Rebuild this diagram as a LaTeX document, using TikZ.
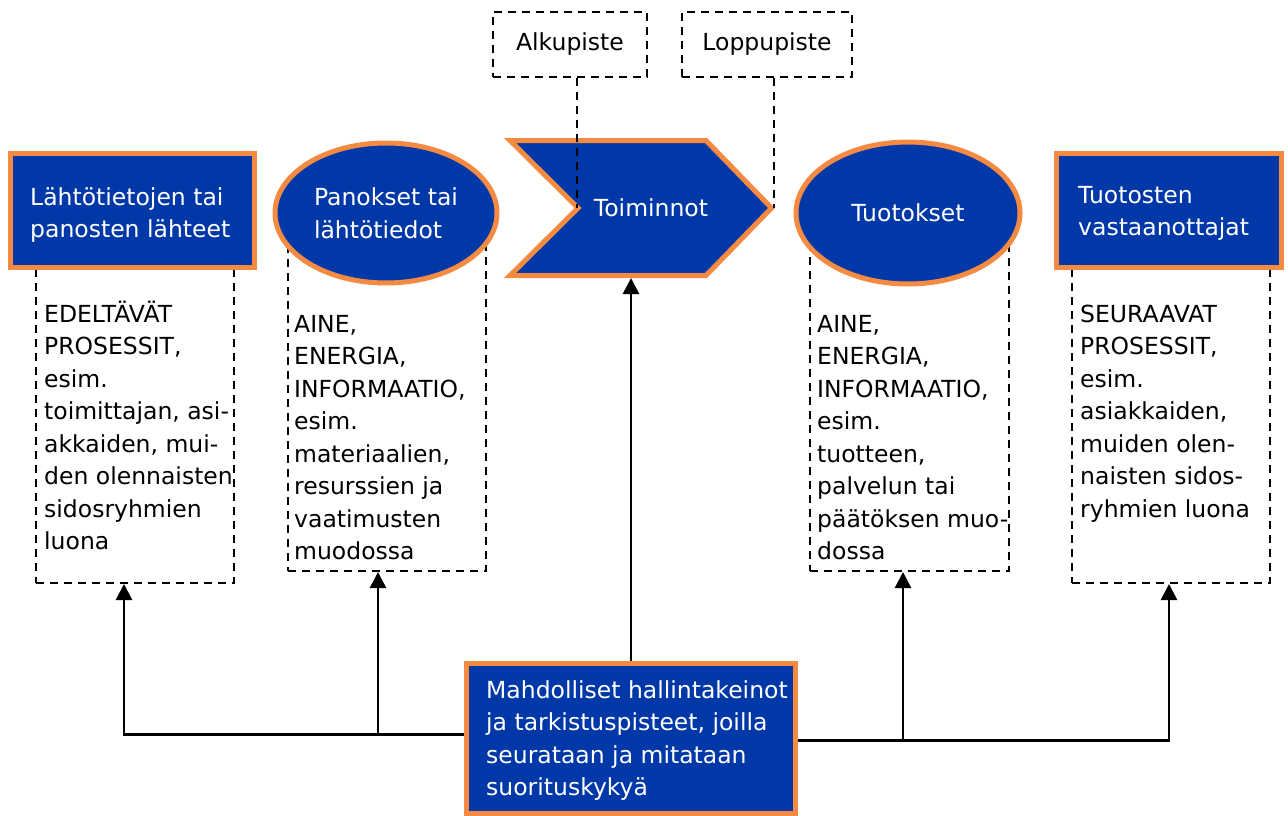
\documentclass[tikz,border=0pt]{standalone}
\usepackage{fontspec}
\setmainfont{DejaVu Sans}
\usetikzlibrary{shapes.geometric,arrows.meta,backgrounds}
\definecolor{bl}{HTML}{0038A8}
\definecolor{orb}{HTML}{F58B43}
\newcommand\dgfont{\fontsize{23.5}{32.5}\selectfont}
\begin{document}
\begin{tikzpicture}[x=1pt,y=-1pt,
  bluebox/.style={draw=orb, fill=bl, line width=5pt, rectangle, inner sep=0pt},
  blueell/.style={draw=orb, fill=bl, line width=5pt, ellipse, inner sep=0pt, text=white, font=\dgfont, align=left},
  dsh/.style={draw=black, line width=2pt, dash pattern=on 8pt off 6pt, inner sep=0pt},
  dline/.style={draw=black, line width=2pt, dash pattern=on 8pt off 6pt},
  txt/.style={font=\dgfont, inner sep=0pt, align=left, anchor=north west},
  wtxt/.style={txt, text=white},
  arr/.style={draw=black, line width=2.5pt, -{Triangle[width=16pt,length=16pt]}}]
\useasboundingbox (0,0) rectangle (1288,816);

% dashed detail boxes (top edges hidden behind the blue shapes)
\node[dsh, minimum width=198pt, minimum height=323pt] (d1) at (135,421.5) {};
\node[dsh, minimum width=198pt, minimum height=336pt] (d2) at (387,403) {};
\node[dsh, minimum width=199pt, minimum height=336pt] (d3) at (909.5,403) {};
\node[dsh, minimum width=198pt, minimum height=323pt] (d4) at (1171,421.5) {};

% top dashed labels
\node[dsh, minimum width=154pt, minimum height=65pt, font=\dgfont] (alk) at (570,44.5) {Alkupiste};
\node[dsh, minimum width=170pt, minimum height=65pt, font=\dgfont] (lop) at (767,44.5) {Loppupiste};

% blue shapes
\node[bluebox, minimum width=244pt, minimum height=114pt] (src) at (132,210) {};
\node[blueell, minimum width=222pt, minimum height=140pt] (inp) at (386,213) {Panokset tai\\lähtötiedot};
\draw[draw=orb, fill=bl, line width=5pt, line join=miter]
  (510,140.5) -- (706,140.5) -- (771.5,208) -- (706,275.5) -- (510,275.5) -- (578,208) -- cycle;
\node[font=\dgfont, text=white, inner sep=0pt] (toim) at (651,208) {Toiminnot};
\coordinate (notch) at (577,208);
\coordinate (tip) at (774,208);
\coordinate (chevbot) at (631,278);
\node[blueell, minimum width=224pt, minimum height=142pt] (outp) at (908,213) {Tuotokset};
\node[bluebox, minimum width=225pt, minimum height=114pt] (rec) at (1168.5,210) {};
\node[bluebox, minimum width=329pt, minimum height=150pt] (hall) at (630.5,738) {};

% texts
\node[wtxt] (t1) at (30,182.25) {\strut Lähtötietojen tai\\panosten lähteet};
\node[wtxt] (t4) at (1078,180.25) {\strut Tuotosten\\vastaanottajat};
\node[wtxt] (th) at (486,675.25) {\strut Mahdolliset hallintakeinot\\ja tarkistuspisteet, joilla\\seurataan ja mitataan\\suorituskykyä};
\node[txt] (x1) at (44,299.25) {\strut EDELTÄVÄT\\PROSESSIT,\\esim.\\toimittajan, asi-\\akkaiden, mui-\\den olennaisten\\sidosryhmien\\luona};
\node[txt] (x2) at (294,309.25) {\strut AINE,\\ENERGIA,\\INFORMAATIO,\\esim.\\materiaalien,\\resurssien ja\\vaatimusten\\muodossa};
\node[txt] (x3) at (817,309.25) {\strut AINE,\\ENERGIA,\\INFORMAATIO,\\esim.\\tuotteen,\\palvelun tai\\päätöksen muo-\\dossa};
\node[txt] (x4) at (1080,299.25) {\strut SEURAAVAT\\PROSESSIT,\\esim.\\asiakkaiden,\\muiden olen-\\naisten sidos-\\ryhmien luona};

% dashed pointers
\draw[dline] (alk.south -| notch) -- (notch);
\draw[dline] (lop.south -| tip) -- (tip);

% arrows
\coordinate (jl) at ([yshift=3.5pt]hall.west);
\coordinate (jr) at ([yshift=-2.5pt]hall.east);
\coordinate (a1) at ([xshift=-11pt]d1.south);
\coordinate (a2) at ([xshift=-9pt]d2.south);
\coordinate (a3) at ([xshift=-6.5pt]d3.south);
\coordinate (a4) at ([xshift=-2pt]d4.south);
\draw[arr] (jl) -| (a1);
\draw[arr] (a2 |- jl) -- (a2);
\draw[arr] (jr) -| (a4);
\draw[arr] (a3 |- jr) -- (a3);
\draw[arr] (hall.north -| chevbot) -- (chevbot);
\end{tikzpicture}
\end{document}
